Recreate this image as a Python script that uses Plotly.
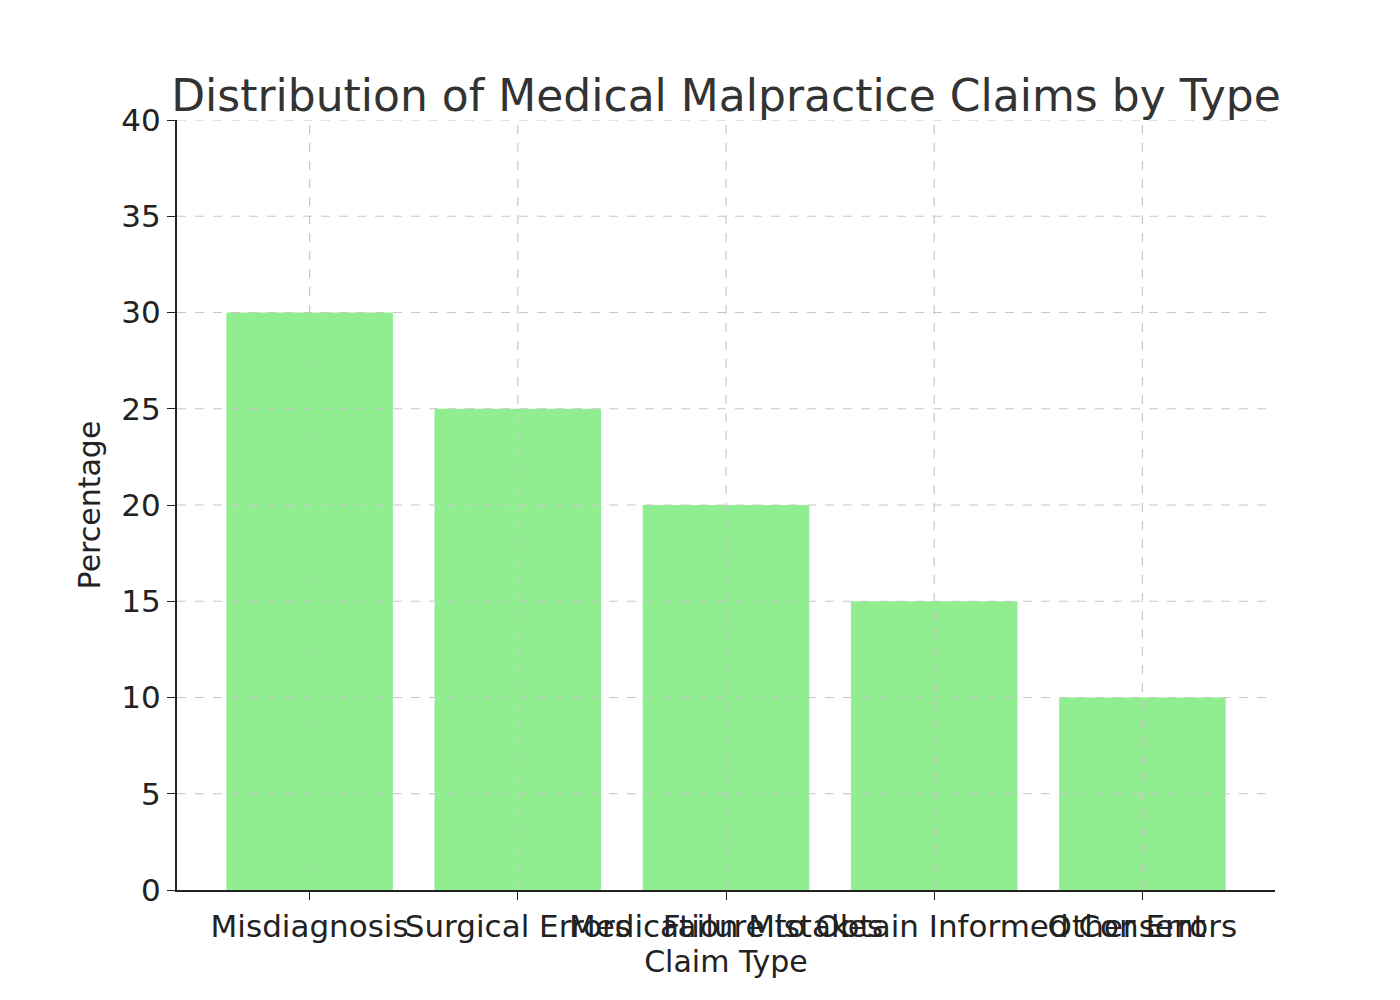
import plotly.graph_objects as go

claim_types = ["Misdiagnosis", "Surgical Errors", "Medication Mistakes",
               "Failure to Obtain Informed Consent", "Other Errors"]
percentages = [30, 25, 20, 15, 10]
y_ticks = [0, 5, 10, 15, 20, 25, 30, 35, 40]

pos = list(range(len(claim_types)))

fig = go.Figure(go.Bar(x=pos, y=percentages, width=0.8,
                       marker=dict(color="#90ee90", line=dict(width=0))))

# matplotlib draws the grid over the bars, so use shapes on top
grid = dict(color="#c8c8c8", width=1.2, dash="dash")
for p in pos:
    fig.add_shape(type="line", xref="x", yref="paper", x0=p, x1=p, y0=0, y1=1,
                  line=grid, layer="above")
for t in y_ticks[1:]:
    fig.add_shape(type="line", xref="paper", yref="y", x0=0, x1=1, y0=t, y1=t,
                  line=grid, layer="above")

font = "DejaVu Sans"
fig.update_layout(
    width=1400, height=1000,
    paper_bgcolor="white", plot_bgcolor="white",
    margin=dict(l=169, r=133, t=112, b=118),
    font=dict(family=font, size=31, color="#222"),
    title=dict(text="Distribution of Medical Malpractice Claims by Type",
               x=0.5, xref="paper", y=0.912, yanchor="middle",
               font=dict(size=44, color="#333")),
    showlegend=False,
)
fig.update_xaxes(range=[-0.637, 4.637], tickvals=pos, ticktext=claim_types,
                 tickangle=0, ticks="outside", ticklen=8, tickcolor="#222",
                 showline=True, linecolor="#222", linewidth=2,
                 showgrid=False, zeroline=False,
                 title=dict(text="Claim Type", standoff=8, font=dict(size=30)))
fig.update_yaxes(range=[0, 40], tickvals=y_ticks, ticks="outside", ticklen=8, tickcolor="#222",
                 showline=True, linecolor="#222", linewidth=2,
                 showgrid=False, zeroline=False,
                 title=dict(text="Percentage", standoff=12, font=dict(size=30)))

fig.write_html("out.html")
